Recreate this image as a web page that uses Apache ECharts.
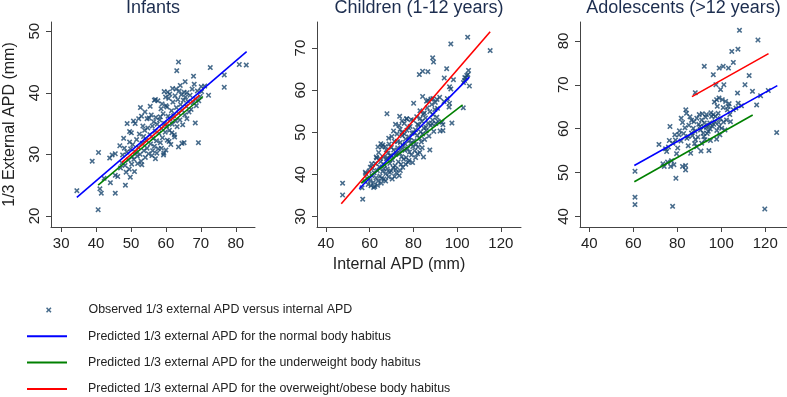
<!DOCTYPE html>
<html>
<head>
<meta charset="utf-8">
<script src="https://cdn.jsdelivr.net/npm/echarts@6.0.0/dist/echarts.min.js"></script>
<style>
  html, body { margin: 0; padding: 0; background: #fff; }
  #chart { width: 787px; height: 397px; }
</style>
</head>
<body>
<div id="chart"></div>
<script>
// panel titles
const panelTitles = ["Infants", "Children (1-12 years)", "Adolescents (>12 years)"];
const legendNames = [
  "Observed 1/3 external APD versus internal APD",
  "Predicted 1/3 external APD for the normal body habitus",
  "Predicted 1/3 external APD for the underweight body habitus",
  "Predicted 1/3 external APD for the overweight/obese body habitus"
];

// tick labels per panel
const xTicks = [[30, 40, 50, 60, 70, 80], [40, 60, 80, 100, 120], [40, 60, 80, 100, 120]];
const yTicks = [[20, 30, 40, 50], [30, 40, 50, 60, 70], [40, 50, 60, 70, 80]];

// observed points [internal APD, 1/3 external APD]
const infantsObs = [
  [34.5,24.1],[38.9,28.9],[40.7,30.3],[40.6,21.0],[41.1,24.4],[41.5,23.7],[42.3,26.1],[43.9,29.4],
  [44.1,25.4],[45.5,30.1],[45.5,23.7],[45.5,26.6],[46.2,26.4],[47.4,28.6],[48.1,31.0],[48.4,25.0],
  [48.9,35.0],[49.6,33.7],[49.6,32.0],[49.8,26.3],[50.3,29.6],[51.2,35.0],[51.9,28.5],[52.7,37.6],
  [53.1,28.3],[53.6,32.9],[54.6,35.8],[56.7,38.8],[57.4,30.2],[58.4,36.1],[59.5,40.2],[60.0,30.7],
  [60.3,37.7],[61.9,40.7],[63.1,43.6],[63.6,45.0],[63.6,31.2],[64.6,31.8],[65.2,31.9],[65.5,41.8],
  [66.0,35.8],[67.9,42.7],[68.4,35.1],[69.3,31.9],[70.1,41.0],[71.1,41.1],[72.2,39.6],[72.7,44.1],
  [76.7,42.9],[76.7,40.9],[81.0,44.6],[83.0,44.5],
  [47.0,27.8],[47.6,29.9],[48.3,28.2],[48.8,30.4],[49.2,29.1],[49.5,27.6],[49.9,30.9],[50.2,28.4],
  [50.5,31.6],[50.8,29.2],[51.0,27.2],[51.3,30.4],[51.6,32.4],[51.8,29.7],[52.1,31.1],[52.4,33.3],
  [52.6,30.0],[52.9,28.9],[53.2,31.8],[53.4,34.6],[53.7,30.6],[53.9,33.9],[54.1,29.5],[54.3,32.3],
  [54.6,31.0],[54.8,34.3],[55.0,30.1],[55.2,35.9],[55.4,33.2],[55.6,31.7],[55.8,36.4],[56.0,29.8],
  [56.1,34.6],[56.3,32.6],[56.5,35.3],[56.7,31.3],[56.9,33.8],[57.1,36.0],[57.3,32.2],[57.5,34.9],
  [57.7,38.7],[57.8,30.9],[58.0,33.4],[58.2,35.6],[58.4,31.9],[58.6,37.4],[58.8,34.2],[59.0,32.7],
  [59.2,36.6],[59.4,30.2],[59.6,35.0],[59.8,33.6],[60.0,37.9],[60.2,34.6],[60.4,32.3],[60.6,36.2],
  [60.8,39.1],[61.0,33.9],[61.2,35.7],[61.4,31.6],[61.6,37.1],[61.8,34.9],[62.0,38.5],[62.2,36.3],
  [62.4,33.2],[62.6,39.5],[62.8,35.4],[63.0,37.6],[63.2,34.5],[63.4,38.9],[63.6,36.7],[63.8,40.3],
  [64.0,35.6],[64.2,38.1],[64.4,39.7],[64.6,37.2],[64.8,34.8],[65.0,38.8],[65.2,40.1],[65.4,36.4],
  [65.6,39.3],[65.8,37.8],[66.0,40.0],[66.3,38.6],[66.6,36.9],[66.9,39.6],[67.2,37.3],[67.5,40.6],
  [67.8,38.4],[68.1,41.4],[68.4,39.0],[68.7,37.9],[69.0,40.3],[69.4,38.7],[69.8,39.4],[70.2,40.2],
  [44.6,29.9],[46.8,31.4],[47.9,32.6],[50.1,33.5],[50.7,35.4],[52.2,35.8],[53.0,36.2],[54.0,36.9],
  [55.5,37.8],[57.0,38.9],[58.9,38.2],[59.9,39.3],[61.1,39.8],[62.9,40.6],[64.1,41.2],[60.5,40.1],
  [56.2,30.6],[57.0,29.3],[58.7,31.0],[60.9,32.1],[62.5,32.8],[61.7,33.5],[59.3,29.9],[48.6,27.1]
];
const childrenObs = [
  [47.6,37.9],[47.6,35.1],[56.8,34.1],[56.5,36.8],[67.9,54.4],[104.8,72.6],[97.1,71.0],[115.1,69.4],
  [88.8,67.7],[89.2,66.7],[95.2,65.1],[86.6,64.4],[84.2,64.5],[82.7,63.7],[94.1,62.9],[98.3,62.5],
  [103.4,62.3],[104.0,62.9],[104.9,63.7],[105.2,64.7],[105.6,61.0],[96.5,60.8],[97.1,60.3],
  [102.8,55.8],[97.6,52.2],[96.5,56.9],[93.5,50.4],[87.5,45.8],[84.6,44.1],[81.9,44.9],
  [80.1,56.9],[84.2,58.5],[86.6,57.6],[88.9,58.0],[90.8,57.8],[73.7,53.8],[77.0,53.2],[85.7,51.2],
  [88.5,52.0],[90.7,53.6],[93.0,52.4],[58.0,40.5],[60.3,41.7],[63.8,46.5],[65.1,47.3],[74.7,50.0],
  [57.5,38.4],[58.2,40.2],[58.8,39.1],[59.3,37.6],[59.8,40.8],[60.2,38.5],[60.6,37.3],[61.0,39.7],
  [61.3,41.5],[61.7,38.1],[62.0,40.4],[62.3,37.1],[62.6,42.6],[62.9,39.2],[63.2,43.9],[63.5,40.9],
  [63.8,38.4],[64.1,45.2],[64.4,41.8],[64.7,39.6],[65.0,43.0],[65.3,37.9],[65.6,46.5],[65.9,40.7],
  [66.2,44.1],[66.5,38.9],[66.8,42.3],[67.1,46.6],[67.4,40.2],[67.7,43.7],[68.0,41.3],[68.3,45.0],
  [68.6,39.4],[68.9,47.2],[69.2,42.6],[69.5,44.5],[69.8,40.8],[70.1,49.0],[70.4,43.4],[70.7,41.6],
  [71.0,45.8],[71.3,47.9],[71.6,42.1],[71.9,44.7],[72.2,40.4],[72.5,49.6],[72.8,46.3],[73.1,43.0],
  [73.4,51.6],[73.7,45.1],[74.0,47.6],[74.3,42.4],[74.6,44.2],[74.9,49.2],[75.2,46.8],[75.5,43.6],
  [75.8,52.1],[76.1,45.7],[76.4,48.4],[76.7,44.0],[77.0,50.5],[77.3,46.1],[77.6,42.9],[77.9,48.9],
  [78.2,45.3],[78.5,51.4],[78.8,47.4],[79.1,44.6],[79.4,49.8],[79.7,46.6],[80.0,52.8],[80.3,48.0],
  [80.6,45.6],[80.9,50.6],[81.2,47.1],[81.5,53.7],[81.8,49.3],[82.1,46.5],[82.4,51.7],[82.7,48.6],
  [83.0,55.1],[83.3,50.1],[83.6,47.7],[83.9,52.6],[84.2,49.6],[84.5,54.3],[84.8,51.0],[85.1,48.3],
  [85.5,53.4],[85.9,50.4],[86.3,55.8],[86.7,52.2],[87.1,49.1],[87.5,54.9],[87.9,51.6],[88.4,56.6],
  [88.8,52.9],[89.3,50.2],[89.8,55.4],[90.3,52.1],
  [60.9,42.5],[63.0,44.1],[64.8,43.7],[66.0,47.0],[67.6,45.8],[68.7,48.6],[69.9,46.4],[70.9,50.3],
  [71.8,51.9],[72.7,47.8],[73.9,50.7],[74.8,52.7],[75.9,49.6],[76.8,53.2],[77.8,51.1],[79.0,53.0],
  [70.3,38.9],[72.0,41.2],[73.5,39.7],[75.1,41.7],[76.5,42.4],[78.0,43.3],[79.6,42.8],[81.0,44.0],
  [82.9,45.2],[84.0,46.3],[61.8,36.9],[63.6,37.4],[65.5,39.0],[67.3,38.4],[69.1,40.5],[71.4,39.5],
  [74.0,40.9],[66.4,41.4],[68.1,43.9],[70.0,44.4],[72.3,45.0],[74.5,46.0],[76.3,47.2],[78.3,48.1],
  [80.1,49.9],[81.9,51.9],[83.1,53.3],[85.0,54.6],[86.0,57.4],[88.0,57.9],[89.0,54.2],[90.0,57.1],
  [91.0,55.7],[92.0,58.3],[94.0,57.3],[95.5,58.0],[96.3,56.0],[93.5,51.8],[92.2,50.3],[91.3,52.6],
  [103.5,63.0],[104.4,63.5],[102.9,61.8]
];
const adolescentsObs = [
  [108.3,82.4],[116.7,80.2],[104.8,77.6],[107.6,78.1],[105.5,75.1],[92.3,74.2],[99.1,73.8],[100.9,74.2],
  [103.3,73.8],[96.4,72.3],[97.6,70.0],[101.2,70.0],[99.7,68.9],[88.2,68.2],[107.4,68.1],[112.7,72.1],
  [110.8,70.0],[114.2,68.5],[121.4,68.7],[117.9,67.5],[116.1,65.4],[125.2,59.1],[119.8,41.7],[77.9,42.3],
  [60.8,44.4],[60.8,42.7],[60.8,50.3],[79.4,48.7],[71.7,56.4],[76.7,60.5],[81.8,62.4],
  [74.7,55.4],[76.4,57.3],[75.2,54.8],[75.6,52.4],[77.4,52.7],[74.1,51.4],[77.0,51.4],[78.5,51.8],
  [79.7,54.3],[78.9,58.6],[80.8,58.6],[82.4,61.4],[82.4,51.4],[83.8,51.6],[83.8,50.6],[83.9,64.3],
  [84.2,63.5],[85.0,56.1],[86.1,54.4],[86.5,61.9],[87.3,60.1],[86.5,59.0],[85.0,58.2],[88.3,57.5],
  [90.0,63.2],[91.1,62.0],[90.3,60.5],[91.8,59.0],[92.1,58.2],[92.3,61.3],[93.3,63.2],[94.1,59.4],
  [94.4,55.0],[94.8,61.3],[95.6,62.8],[96.4,63.2],[97.1,61.6],[97.9,66.6],[98.2,65.1],[98.6,63.5],
  [99.1,60.5],[99.4,58.6],[97.9,57.6],[93.3,60.3],[92.6,57.5],[91.1,56.7],[88.8,55.9],[100.9,64.8],
  [101.7,59.7],[102.4,62.0],[103.2,65.1],[103.6,65.7],[103.9,63.2],[104.2,61.6],[105.5,64.3],
  [106.7,64.7],[107.7,65.8],[109.2,65.2],[100.5,66.6],[99.0,67.0],
  [73.5,52.0],[76.0,55.8],[78.0,56.7],[79.2,57.4],[80.2,55.6],[81.0,59.5],[81.7,57.2],[82.9,58.9],
  [83.5,60.2],[84.4,57.8],[85.3,60.8],[85.8,62.7],[86.9,58.4],[87.6,61.6],[88.1,59.4],[88.9,62.4],
  [89.4,58.1],[89.8,61.0],[90.6,59.7],[91.4,63.4],[92.0,60.4],[92.9,62.6],[93.6,58.9],[94.3,60.8],
  [95.0,59.9],[95.3,63.6],[95.9,60.6],[96.6,61.0],[97.4,62.8],[98.0,59.6],[98.8,61.4],[99.6,62.3],
  [100.2,60.1],[101.0,61.5],[102.0,66.2],[102.8,64.3],[96.9,66.1],[95.1,57.3],[90.8,54.9],[87.9,56.6]
];

// fitted lines, endpoints
const infantsNormal = [[34.5,23.0],[83.1,46.7]];
const infantsUnder = [[40.6,25.0],[70.6,39.4]];
const infantsOver = [[47.4,28.7],[69.6,39.6]];
const childrenNormal = [[55.2,36.6],[105.6,63.1]];
const childrenUnder = [[56.1,37.9],[102.5,56.5]];
const childrenOver = [[47.0,33.0],[115.1,73.9]];
const adolescentsNormal = [[60.5,51.6],[125.5,69.8]];
const adolescentsUnder = [[60.5,47.9],[114.3,63.1]];
const adolescentsOver = [[86.7,67.3],[121.5,77.1]];

const observed = [infantsObs, childrenObs, adolescentsObs];
const normalLines = [infantsNormal, childrenNormal, adolescentsNormal];
const underLines = [infantsUnder, childrenUnder, adolescentsUnder];
const overLines = [infantsOver, childrenOver, adolescentsOver];

const xRange = [[27.1, 85.5], [35.9, 129.2], [35.8, 129.9]];
const yRange = [[18.2, 51.5], [27.5, 76.2], [37.6, 84.3]];

const font = "'Liberation Sans', Arial, sans-serif";
const crossPath = "path://M0,2L2,0L5,3L8,0L10,2L7,5L10,8L8,10L5,7L2,10L0,8L3,5Z";
const navy = "#1a476f";

const chart = echarts.init(document.getElementById("chart"));

const grids = [
  { left: 51, top: 22, width: 204, height: 205 },
  { left: 317, top: 22, width: 204, height: 205 },
  { left: 580, top: 22, width: 207, height: 205 }
].map(g => Object.assign({ outerBoundsMode: "none", containLabel: false }, g));

const axisCommon = {
  type: "value",
  splitLine: { show: false },
  axisLine: { show: true, onZero: false, lineStyle: { color: "#444", width: 1 } },
  axisTick: { show: true, inside: false, length: 5, lineStyle: { color: "#444" } }
};

const xAxes = xRange.map((r, i) => Object.assign({}, axisCommon, {
  gridIndex: i, min: r[0], max: r[1],
  axisTick: Object.assign({}, axisCommon.axisTick, { customValues: xTicks[i] }),
  axisLabel: { customValues: xTicks[i], fontSize: 15, color: "#222", fontFamily: font, margin: 9 },
  name: i === 1 ? "Internal APD (mm)" : "",
  nameLocation: "middle", nameGap: 30,
  nameTextStyle: { fontSize: 16, color: "#222", fontFamily: font, padding: [0, 40, 0, 0] }
}));

const yAxes = yRange.map((r, i) => Object.assign({}, axisCommon, {
  gridIndex: i, min: r[0], max: r[1],
  axisTick: Object.assign({}, axisCommon.axisTick, { customValues: yTicks[i] }),
  axisLabel: { customValues: yTicks[i], fontSize: 15, color: "#222", fontFamily: font, rotate: 90, margin: 9 },
  name: i === 0 ? "1/3 External APD (mm)" : "",
  nameLocation: "middle", nameGap: 33, nameRotate: 90,
  nameTextStyle: { fontSize: 16, color: "#222", fontFamily: font }
}));

const series = [];
for (let i = 0; i < 3; i++) {
  series.push({
    name: legendNames[0], type: "scatter", xAxisIndex: i, yAxisIndex: i,
    data: observed[i], symbol: crossPath, symbolSize: 5.5, symbolKeepAspect: true,
    itemStyle: { color: navy }, silent: true
  });
  const lines = [[normalLines[i], legendNames[1], "#0000ff"], [underLines[i], legendNames[2], "#008000"], [overLines[i], legendNames[3], "#ff0000"]];
  lines.forEach(([d, n, c]) => {
    series.push({
      name: n, type: "line", xAxisIndex: i, yAxisIndex: i, data: d,
      showSymbol: false, symbol: "none", lineStyle: { color: c, width: 1.6 }, itemStyle: { color: c }, silent: true
    });
  });
}

function legendText(pad) {
  return { fontSize: 12.4, color: "#222", fontFamily: font, lineHeight: 14, padding: [0, 0, 0, pad] };
}

const option = {
  animation: false,
  backgroundColor: "#fff",
  title: panelTitles.map((t, i) => ({
    text: t, left: grids[i].left + grids[i].width / 2, textAlign: "center", top: -1, padding: 0,
    textStyle: { fontSize: 18, fontWeight: "normal", color: "#1c2d4f", fontFamily: font }
  })),
  legend: [
    {
      orient: "vertical", left: 46, top: 303, padding: 0, itemWidth: 5.5, itemHeight: 5.5,
      data: [legendNames[0]], selectedMode: false, textStyle: legendText(32)
    },
    {
      orient: "vertical", left: 27, top: 329.3, padding: 0, itemWidth: 40, itemHeight: 2, itemGap: 12.3,
      icon: "rect", data: legendNames.slice(1), selectedMode: false, textStyle: legendText(16)
    }
  ],
  grid: grids,
  xAxis: xAxes,
  yAxis: yAxes,
  series: series
};
chart.setOption(option);
</script>
</body>
</html>
